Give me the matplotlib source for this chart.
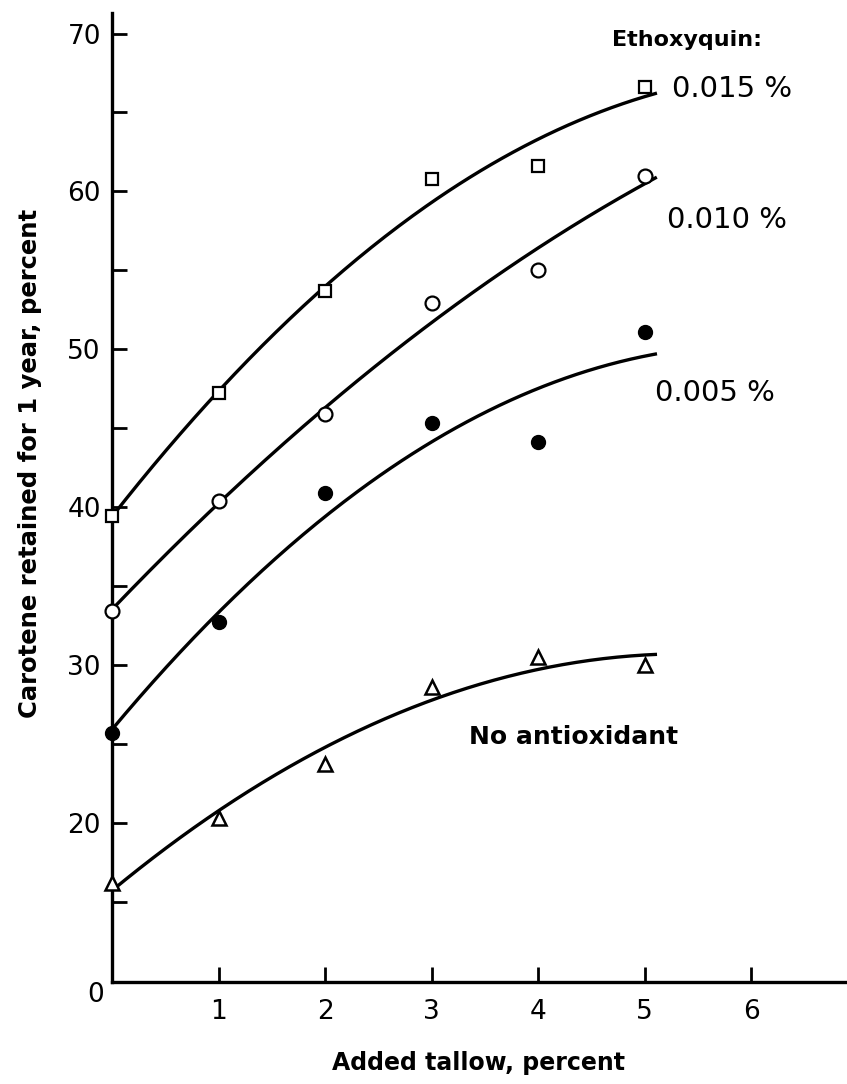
import numpy as np
import matplotlib
matplotlib.use("Agg")
import matplotlib.pyplot as plt

# Data
tallow = [0, 1, 2, 3, 4, 5]
eq_015 = [39.4, 47.2, 53.7, 60.8, 61.6, 66.6]
eq_010 = [33.4, 40.4, 45.9, 52.9, 55.0, 61.0]
eq_005 = [25.7, 32.7, 40.9, 45.3, 44.1, 51.1]
no_anti = [16.2, 20.3, 23.7, 28.6, 30.5, 30.0]

series_labels = ["0.015 %", "0.010 %", "0.005 %", "No antioxidant"]
x_ticks = [1, 2, 3, 4, 5, 6]
y_ticks = [20, 30, 40, 50, 60, 70]
y_minor = [15, 25, 35, 45, 55, 65]

plt.rcParams['font.family'] = ['DejaVu Sans']

fig = plt.figure(figsize=(8.47, 10.84), dpi=100)
ax = fig.add_axes([112/847, 102/1084, 733/847, 969/1084])

xs = np.array(tallow, dtype=float)
xfit = np.linspace(0, 5.1, 200)
styles = [
    (eq_015, dict(marker='s', mfc='white', mec='black', ms=8, mew=1.6)),
    (eq_010, dict(marker='o', mfc='white', mec='black', ms=10, mew=1.6)),
    (eq_005, dict(marker='o', mfc='black', mec='black', ms=10, mew=1.0)),
    (no_anti, dict(marker='^', mfc='white', mec='black', ms=10, mew=1.8)),
]
for ys, st in styles:
    coef = np.polyfit(xs, ys, 2)
    ax.plot(xfit, np.polyval(coef, xfit), color='black', lw=2.4, zorder=2)
    ax.plot(xs, ys, linestyle='none', zorder=3, clip_on=False, **st)

ax.set_xlim(0, 6.88)
ax.set_ylim(9.9, 71.3)

for s in ['top', 'right']:
    ax.spines[s].set_visible(False)
for s in ['left', 'bottom']:
    ax.spines[s].set_linewidth(2.4)

ax.set_xticks(x_ticks)
ax.set_xticklabels([str(v) for v in x_ticks])
ax.set_yticks(y_ticks)
ax.set_yticklabels([str(v) for v in y_ticks])
ax.set_yticks(y_minor, minor=True)
ax.tick_params(axis='both', which='both', direction='in', length=11, width=2.0,
               labelsize=19)
ax.tick_params(axis='x', pad=12)
ax.tick_params(axis='y', pad=8)

# origin label
ax.text(-0.023, -0.0134, "0", transform=ax.transAxes, ha='center', va='center', fontsize=19)

ax.set_xlabel("Added tallow, percent", fontsize=17, fontweight='bold', labelpad=19)
ax.set_ylabel("Carotene retained for 1 year, percent", fontsize=17.5, fontweight='bold',
              labelpad=18)
ax.yaxis.label.set_y(0.535)

ax.text(5.4, 69.6, "Ethoxyquin:", fontsize=16, fontweight='bold', ha='center', va='center')
ax.text(5.26, 66.5, series_labels[0], fontsize=21, ha='left', va='center')
ax.text(5.21, 58.2, series_labels[1], fontsize=21, ha='left', va='center')
ax.text(5.10, 47.2, series_labels[2], fontsize=21, ha='left', va='center')
ax.text(4.33, 25.4, series_labels[3], fontsize=18, fontweight='bold', ha='center', va='center')

fig.savefig("out.png", dpi=100)
